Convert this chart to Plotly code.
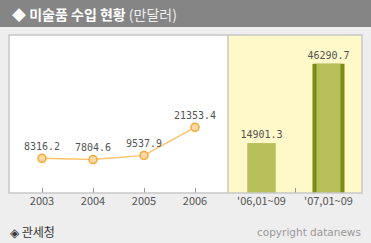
import plotly.graph_objects as go

# ---- data ----
line_categories = ["2003", "2004", "2005", "2006"]
line_values = [8316.2, 7804.6, 9537.9, 21353.4]
bar_categories = ["'06,01~09", "'07,01~09"]
bar_values = [14901.3, 46290.7]

title_main = "◆ 미술품 수입 현황"
title_unit = "(만달러)"
source_text = "◈ 관세청"
copyright_text = "copyright datanews"

# ---- layout constants ----
W, H = 371, 243
ML, MR, MT, MB = 9, 9, 35, 50
plot_w = W - ML - MR
plot_h = H - MT - MB
split = (228 - ML) / plot_w

BAR_BASE = -4698
BAR_TOP = 57607
LINE_MIN = -6276
LINE_MAX = 60166

def px_x(px):
    return (px - ML) / plot_w

def px_y(py):
    return (H - MB - py) / plot_h

fig = go.Figure()

fig.add_trace(go.Scatter(
    x=line_categories, y=line_values, mode="lines+markers+text",
    text=[f"{v:.1f}" for v in line_values], textposition="top center",
    textfont=dict(family="DejaVu Sans Mono", size=10, color="#555555"),
    line=dict(color="#fcc46a", width=1.5),
    marker=dict(size=8, color="#fdd9a8", line=dict(color="#f7a834", width=1.5)),
    xaxis="x", yaxis="y", cliponaxis=False, showlegend=False,
))

# dark back bars (border effect on highlighted bar)
fig.add_trace(go.Bar(
    x=bar_categories, y=[v - BAR_BASE for v in bar_values], base=BAR_BASE,
    width=[28 / 67, 32 / 67],
    marker=dict(color=["#b6bf5a", "#7b8b17"], line=dict(width=0)),
    xaxis="x2", yaxis="y2", showlegend=False, hoverinfo="skip",
))
fig.add_trace(go.Bar(
    x=bar_categories, y=[v - BAR_BASE for v in bar_values], base=BAR_BASE,
    width=[28 / 67, 24 / 67],
    marker=dict(color="#b6bf5a", line=dict(width=0)),
    text=[f"{v:.1f}" for v in bar_values], textposition="outside",
    textfont=dict(family="DejaVu Sans Mono", size=10, color="#555555"),
    cliponaxis=False, constraintext="none",
    xaxis="x2", yaxis="y2", showlegend=False,
))

tickfont = dict(family="Noto Sans CJK KR", size=11, color="#555555")

fig.update_layout(
    width=W, height=H,
    margin=dict(l=ML, r=MR, t=MT, b=MB),
    paper_bgcolor="#eeeeee", plot_bgcolor="rgba(0,0,0,0)",
    barmode="overlay",
    xaxis=dict(domain=[0, split], type="category", range=[-0.647, 3.647],
               showgrid=False, zeroline=False, ticks="inside", ticklen=5,
               tickcolor="#999999", tickfont=tickfont, showline=False,
               fixedrange=True),
    yaxis=dict(domain=[0, 1], range=[LINE_MIN, LINE_MAX], visible=False,
               anchor="x"),
    xaxis2=dict(domain=[split, 1], type="category", range=[-0.5, 1.5],
                showgrid=False, zeroline=False, ticks="inside", ticklen=5,
                tickcolor="#999999", tickson="boundaries", tickfont=tickfont,
                anchor="y2"),
    yaxis2=dict(domain=[0, 1], range=[BAR_BASE, BAR_TOP], visible=False,
                anchor="x2"),
    shapes=[
        # title bar
        dict(type="rect", xref="paper", yref="paper", layer="below",
             x0=px_x(0), x1=px_x(W), y0=px_y(27), y1=px_y(0),
             fillcolor="#858585", line=dict(width=0)),
        # white area
        dict(type="rect", xref="paper", yref="paper", layer="below",
             x0=0, x1=split, y0=0, y1=1, fillcolor="#ffffff", line=dict(width=0)),
        # yellow area
        dict(type="rect", xref="paper", yref="paper", layer="below",
             x0=split, x1=1, y0=0, y1=1, fillcolor="#fff8c8", line=dict(width=0)),
        # border
        dict(type="rect", xref="paper", yref="paper", layer="above",
             x0=0, x1=1, y0=0, y1=1, line=dict(color="#c8c8c8", width=1.5)),
        dict(type="line", xref="paper", yref="paper", layer="above",
             x0=split, x1=split, y0=0, y1=1, line=dict(color="#c8c8c8", width=1.5)),
    ],
    annotations=[
        dict(xref="paper", yref="paper", x=px_x(10), y=px_y(14),
             xanchor="left", yanchor="middle", showarrow=False,
             text=f"<b>{title_main}</b> <span style='color:#eeeeee'>{title_unit}</span>",
             font=dict(family="Noto Sans CJK KR", size=14, color="#ffffff")),
        dict(xref="paper", yref="paper", x=px_x(8), y=px_y(231),
             xanchor="left", yanchor="middle", showarrow=False,
             text=source_text,
             font=dict(family="Noto Sans CJK KR", size=12, color="#333333")),
        dict(xref="paper", yref="paper", x=px_x(363), y=px_y(232),
             xanchor="right", yanchor="middle", showarrow=False,
             text=copyright_text,
             font=dict(family="DejaVu Sans", size=10.5, color="#999999")),
    ],
)

fig.write_html("out.html")
